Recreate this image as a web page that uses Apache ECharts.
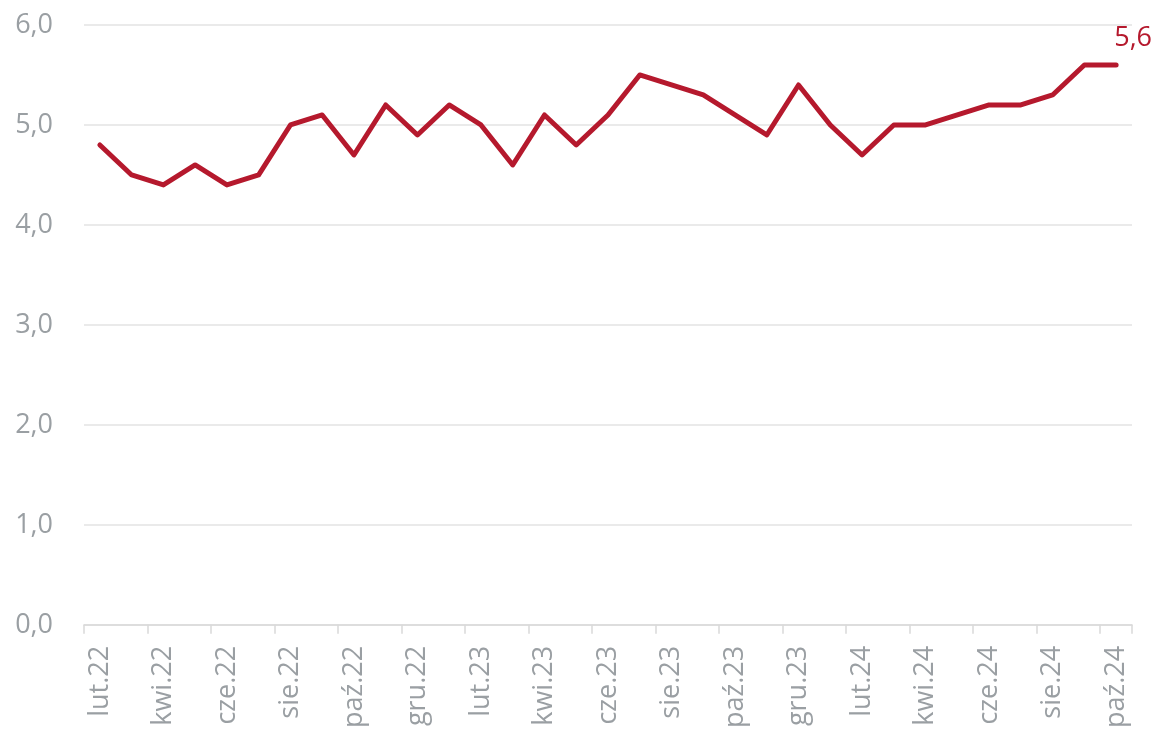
<!DOCTYPE html>
<html lang="pl">
<head>
    <meta charset="UTF-8">
    <title>Wykres</title>
    <script src="https://cdn.jsdelivr.net/npm/echarts@6/dist/echarts.min.js"></script>
    <style>
        body { margin: 0; padding: 0; background: #fff; }
        #chart { width: 1156px; height: 731px; }
    </style>
</head>
<body>
    <div id="chart"></div>
    <script>
        // miesiące lut.22 - paź.24
        const months = [
            'lut.22', 'mar.22', 'kwi.22', 'maj.22', 'cze.22', 'lip.22', 'sie.22', 'wrz.22', 'paź.22', 'lis.22', 'gru.22',
            'sty.23', 'lut.23', 'mar.23', 'kwi.23', 'maj.23', 'cze.23', 'lip.23', 'sie.23', 'wrz.23', 'paź.23', 'lis.23', 'gru.23',
            'sty.24', 'lut.24', 'mar.24', 'kwi.24', 'maj.24', 'cze.24', 'lip.24', 'sie.24', 'wrz.24', 'paź.24'
        ];
        const values = [
            4.8, 4.5, 4.4, 4.6, 4.4, 4.5, 5.0, 5.1, 4.7, 5.2, 4.9,
            5.2, 5.0, 4.6, 5.1, 4.8, 5.1, 5.5, 5.4, 5.3, 5.1, 4.9, 5.4,
            5.0, 4.7, 5.0, 5.0, 5.1, 5.2, 5.2, 5.3, 5.6, 5.6
        ];

        const fmt = v => v.toFixed(1).replace('.', ',');
        const grey = '#9a9fa3';
        const red = '#b5192d';

        const chart = echarts.init(document.getElementById('chart'));
        chart.setOption({
            animation: false,
            grid: { left: 84, right: 24, top: 25, bottom: 105 },
            xAxis: {
                type: 'category',
                data: months,
                boundaryGap: true,
                axisLine: { lineStyle: { color: '#d9d9d9', width: 1.5 } },
                axisTick: { show: true, interval: 1, length: 9, lineStyle: { color: '#d9d9d9', width: 1.5 } },
                axisLabel: {
                    interval: 1,
                    rotate: 90,
                    margin: 21,
                    color: grey,
                    fontFamily: 'Open Sans',
                    fontSize: 27
                }
            },
            yAxis: {
                type: 'value',
                min: 0,
                max: 6,
                interval: 1,
                axisLine: { show: false },
                axisTick: { show: false },
                splitLine: { lineStyle: { color: '#e3e3e3', width: 1.5 } },
                axisLabel: {
                    formatter: fmt,
                    margin: 31,
                    color: grey,
                    fontFamily: 'Open Sans',
                    fontSize: 27
                }
            },
            series: [{
                type: 'line',
                data: values,
                symbol: 'none',
                lineStyle: { color: red, width: 5, cap: 'round', join: 'round' },
                itemStyle: { color: red },
                label: { show: false },
                endLabel: {
                    show: true,
                    formatter: p => fmt(p.value),
                    color: red,
                    fontFamily: 'Open Sans',
                    fontSize: 27,
                    position: 'top',
                    offset: [9, -27],
                    align: 'center'
                }
            }]
        });
    </script>
</body>
</html>
